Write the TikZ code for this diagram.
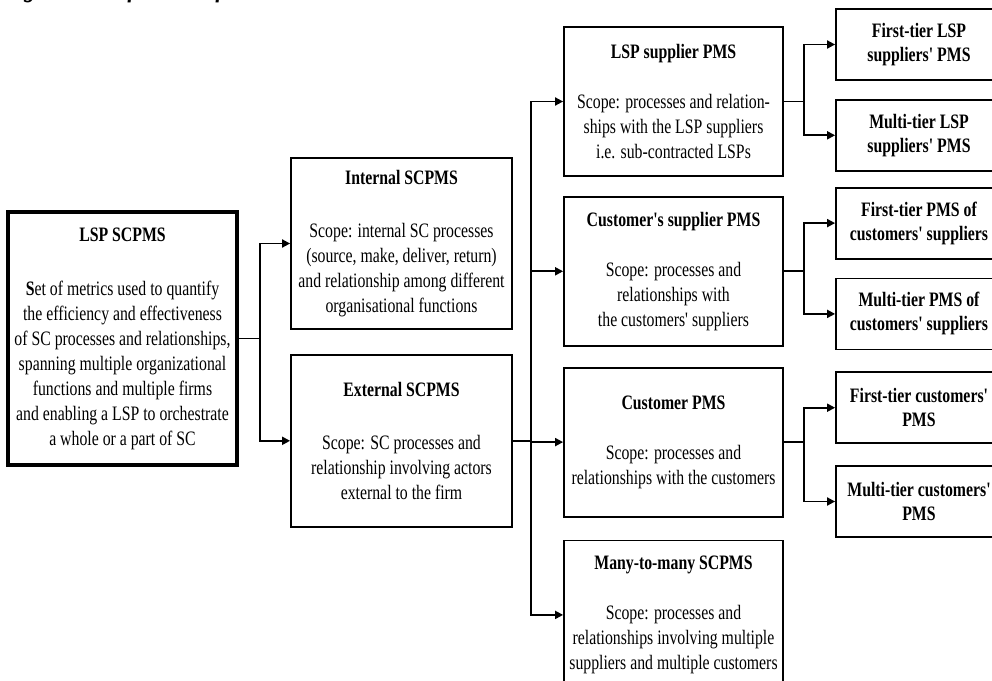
\documentclass[tikz,border=0pt]{standalone}
\usepackage{fontspec}
\setmainfont{Liberation Serif}[FakeStretch=0.77, Ligatures=TeXOff]
\usetikzlibrary{positioning, arrows.meta}
\tikzset{
        x=1pt, y=-1pt, % one unit per pixel, y grows downwards
        >={Triangle[length=8pt,width=8pt]}, % filled arrow heads
        link/.style={->, line width=1.8pt}, % sets properties for each connector
    }
\tikzset{
      scope box/.style={
		draw,
		line width=1.8pt,
		minimum width={#1pt},
		align=center,
		inner sep=0pt,
		font=\fontsize{20.5}{25}\selectfont,
	  },
  		tier box/.style={
    	scope box=166,
    	minimum height=71pt,
    	font=\fontsize{20.5}{24}\selectfont\bfseries,
      }
  	}

\begin{document}
\begin{tikzpicture}
  \useasboundingbox (0,0) rectangle (992,680);
  \node [anchor=base west, font=\fontsize{30}{36}\selectfont\bfseries\itshape] (title) at (-1,-3) {Figure 1: Definition of LSP SCPMS};

  % first two levels
  \node [scope box=229, minimum height=253pt, line width=3.8pt] (lsp) at (122.5,338.5)
    {\textbf{LSP SCPMS}\\[29pt] \textbf{S}et of metrics used to quantify\\ the efficiency and effectiveness\\ of SC processes and relationships,\\ spanning multiple organizational\\ functions and multiple firms\\ and enabling a LSP to orchestrate\\ a whole or a part of SC};
  \node [scope box=221, minimum height=171pt] (int) at (401.5,243.5)
    {\textbf{Internal SCPMS}\\[28pt] Scope: internal SC processes\\ (source, make, deliver, return)\\ and relationship among different\\ organisational functions};
  \node [scope box=221, minimum height=172pt, below=24pt of int] (ext)
    {\textbf{External SCPMS}\\[28pt] Scope: SC processes and\\ relationship involving actors\\ external to the firm};

  % external partners
  \node [scope box=219, minimum height=149pt] (sup) at (673.5,101.5)
    {\textbf{LSP supplier PMS}\\[25pt] Scope: processes and relation-\\ ships with the LSP suppliers\\ i.e. sub-contracted LSPs};
  \node [scope box=219, minimum height=149pt, below=19pt of sup] (csup)
    {\textbf{Customer's supplier PMS}\\[25pt] Scope: processes and\\ relationships with\\ the customers' suppliers};
  \node [scope box=219, minimum height=149pt, below=20pt of csup] (cust)
    {\textbf{Customer PMS}\\[25pt] Scope: processes and\\ relationships with the customers};
  \node [scope box=219, minimum height=149pt, below=22pt of cust] (many)
    {\textbf{Many-to-many SCPMS}\\[25pt] Scope: processes and\\ relationships involving multiple\\ suppliers and multiple customers};

  % tiers
  \node [tier box] (sup1) at (919,44.5) {First-tier LSP\\ suppliers' PMS};
  \node [tier box, below=18pt of sup1] (supn) {Multi-tier LSP\\ suppliers' PMS};
  \node [tier box, below=15pt of supn] (csup1) {First-tier PMS of\\ customers' suppliers};
  \node [tier box, below=18pt of csup1] (csupn) {Multi-tier PMS of\\ customers' suppliers};
  \node [tier box, below=21pt of csupn] (cust1) {First-tier customers'\\ PMS};
  \node [tier box, below=21pt of cust1] (custn) {Multi-tier customers'\\ PMS};

  \foreach \to in {int, ext}
    \draw [link] (lsp.east) -- ++(21,0) |- (\to.west);
  \foreach \to in {sup, csup, cust, many}
    \draw [link] (ext.east) -- ++(18,0) |- (\to.west);
  \foreach \from/\to in {sup/sup1, sup/supn, csup/csup1, csup/csupn, cust/cust1, cust/custn}
    \draw [link] (\from.east) -- ++(20,0) |- (\to.west);
\end{tikzpicture}
\end{document}
